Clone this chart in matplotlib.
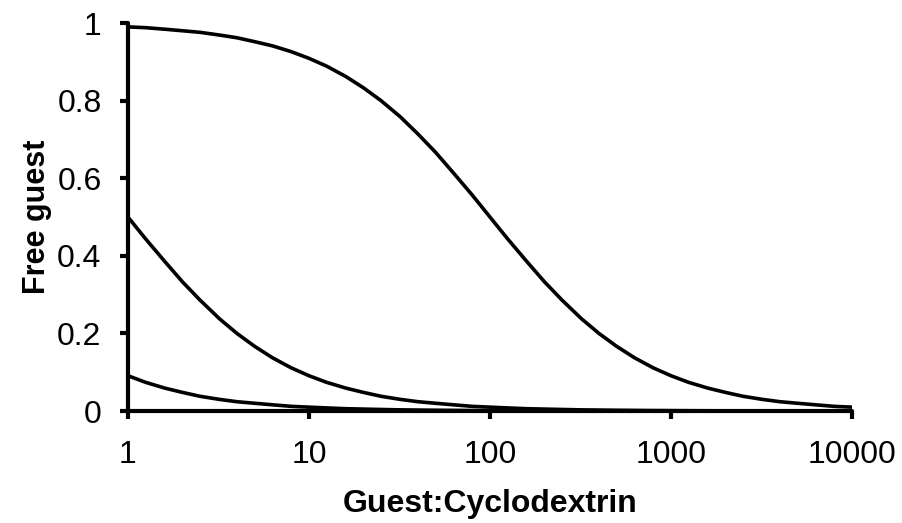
import matplotlib.pyplot as plt
import numpy as np

plt.rcParams["font.family"] = ["Liberation Sans", "DejaVu Sans"]

# values (about ten per decade)
ratio = [1, 1.25, 1.6, 2, 2.5, 3.2, 4, 5, 6.3, 8,
         10, 12.5, 16, 20, 25, 32, 40, 50, 63, 80,
         100, 125, 160, 200, 250, 320, 400, 500, 630, 800,
         1000, 1250, 1600, 2000, 2500, 3200, 4000, 5000, 6300, 8000,
         10000]
free_high = [0.990, 0.988, 0.984, 0.980, 0.976, 0.969, 0.962, 0.952, 0.941, 0.926,
             0.909, 0.889, 0.862, 0.833, 0.800, 0.758, 0.714, 0.667, 0.613, 0.556,
             0.500, 0.444, 0.385, 0.333, 0.286, 0.238, 0.200, 0.167, 0.137, 0.111,
             0.091, 0.074, 0.059, 0.048, 0.038, 0.030, 0.024, 0.020, 0.016, 0.012,
             0.010]
free_mid = [0.500, 0.444, 0.385, 0.333, 0.286, 0.238, 0.200, 0.167, 0.137, 0.111,
            0.091, 0.074, 0.059, 0.048, 0.038, 0.030, 0.024, 0.020, 0.016, 0.012,
            0.010, 0.008, 0.006, 0.005, 0.004, 0.003, 0.0025, 0.002, 0.0016, 0.0012,
            0.001, 0.0008, 0.0006, 0.0005, 0.0004, 0.0003, 0.00025, 0.0002, 0.00016,
            0.00012, 0.0001]
free_low = [0.091, 0.074, 0.059, 0.048, 0.038, 0.030, 0.024, 0.020, 0.016, 0.012,
            0.010, 0.008, 0.006, 0.005, 0.004, 0.003, 0.0025, 0.002, 0.0016, 0.0012,
            0.001, 0.0008, 0.0006, 0.0005, 0.0004, 0.0003, 0.00025, 0.0002, 0.00016,
            0.00012, 0.0001, 0.00008, 0.00006, 0.00005, 0.00004, 0.00003, 0.000025,
            0.00002, 0.000016, 0.000012, 0.00001]

x_ticks = [1, 10, 100, 1000, 10000]
x_tick_labels = ["1", "10", "100", "1000", "10000"]
y_ticks = [0, 0.2, 0.4, 0.6, 0.8, 1]
y_tick_labels = ["0", "0.2", "0.4", "0.6", "0.8", "1"]

fig = plt.figure(figsize=(9.03, 5.23), dpi=100, facecolor="white")
ax = fig.add_axes([0.1417, 0.2141, 0.8018, 0.7419])

for ys in (free_high, free_mid, free_low):
    ax.plot(ratio, ys, color="black", lw=2.6, solid_capstyle="round",
            solid_joinstyle="round")

ax.set_xscale("log")
ax.set_xlim(1, 10000)
ax.set_ylim(0, 1)
ax.set_xticks(x_ticks)
ax.set_xticklabels(x_tick_labels)
ax.minorticks_off()
ax.set_yticks(y_ticks)
ax.set_yticklabels(y_tick_labels)

for side in ["top", "right"]:
    ax.spines[side].set_visible(False)
for side in ["left", "bottom"]:
    ax.spines[side].set_linewidth(3)
    ax.spines[side].set_capstyle("round")

ax.tick_params(axis="both", direction="out", length=6, width=3,
               labelsize=23, color="black")
ax.tick_params(axis="y", pad=13)
ax.tick_params(axis="x", pad=15)

ax.set_xlabel("Guest:Cyclodextrin", fontsize=23, fontweight="bold")
ax.set_ylabel("Free guest", fontsize=22, fontweight="bold")
ax.xaxis.set_label_coords(0.5, -0.2)
ax.yaxis.set_label_coords(-0.105, 0.5)

fig.savefig("out.png", dpi=100, facecolor="white")
